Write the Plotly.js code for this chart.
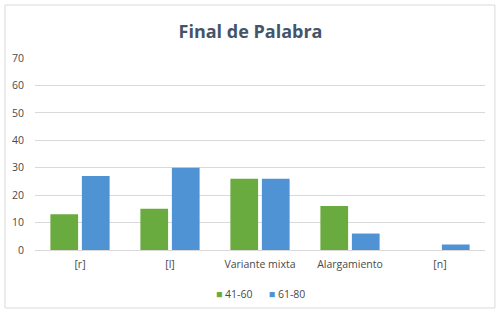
<!DOCTYPE html>
<html><head><meta charset="utf-8">
<script src="https://cdn.plot.ly/plotly-3.0.1.min.js"></script>
<style>html,body{margin:0;padding:0;background:#fff;}#c{width:501px;height:316px;}</style>
</head><body><div id="c"></div>
<script>
const categories = ["[r]", "[l]", "Variante mixta", "Alargamiento", "[n]"];
const series1Name = "41-60";
const series1 = [13, 15, 26, 16, 0];
const series2Name = "61-80";
const series2 = [27, 30, 26, 6, 2];
const yTicks = [0, 10, 20, 30, 40, 50, 60, 70];
const colors = ["#6aab3f", "#4f93d4"];

const font = "Open Sans, Noto Sans, sans-serif";
const data = [
  {type: "bar", x: categories, y: series1, name: series1Name, showlegend: false,
   marker: {color: colors[0]}},
  {type: "bar", x: categories, y: series2, name: series2Name, showlegend: false,
   marker: {color: colors[1]}}
];
const legendText = "<span style='color:" + colors[0] + "'>■</span> " + series1Name +
  "      <span style='color:" + colors[1] + "'>■</span> " + series2Name;
const layout = {
  width: 501, height: 316,
  margin: {l: 35, r: 16, t: 58, b: 66},
  paper_bgcolor: "#fff", plot_bgcolor: "#fff",
  showlegend: false,
  title: {text: "<b>Final de Palabra</b>", x: 0.5, xanchor: "center", y: 0.9, yanchor: "middle",
          font: {family: font, size: 18, color: "#44546a"}},
  barmode: "group", bargap: 0.3, bargroupgap: 0.12,
  xaxis: {type: "category", showgrid: false, showline: false, ticks: "",
          tickfont: {family: font, size: 10.5, color: "#4a4a4a"}, automargin: false, ticklabelstandoff: 6},
  yaxis: {range: [0, 70], tickvals: yTicks, showgrid: true, gridcolor: "#d9d9d9", gridwidth: 1,
          zeroline: true, zerolinecolor: "#d9d9d9", showline: false, ticks: "",
          tickfont: {family: font, size: 10.5, color: "#4a4a4a"}, automargin: false, ticklabelstandoff: 10},
  annotations: [{xref: "paper", yref: "paper", x: 0.5, xanchor: "center", y: -0.229, yanchor: "middle",
                 text: legendText, showarrow: false,
                 font: {family: font, size: 10.5, color: "#4a4a4a"}}],
  shapes: [{type: "rect", xref: "paper", yref: "paper", x0: -0.0667, x1: 1.022, y0: -0.302, y1: 1.276,
            line: {color: "#d9d9d9", width: 1}}]
};
Plotly.newPlot("c", data, layout, {staticPlot: true, displayModeBar: false});
</script></body></html>
